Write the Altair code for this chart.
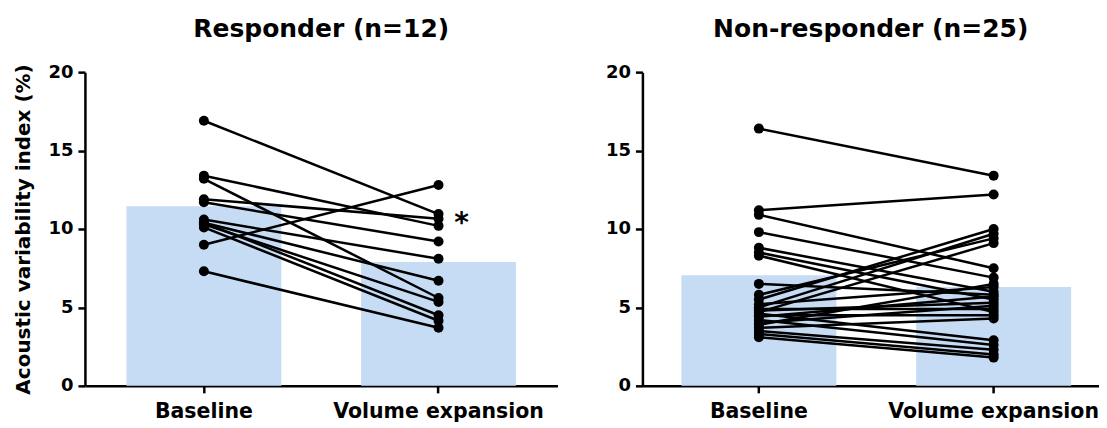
import altair as alt
import pandas as pd

conditions = ["Baseline", "Volume expansion"]

# Responder group (n=12): paired values per subject
resp_baseline = [16.9, 13.4, 13.2, 11.9, 11.7, 10.6, 10.4, 10.4, 10.3, 10.1, 9.0, 7.3]
resp_volume = [10.95, 10.2, 5.6, 10.65, 9.2, 8.1, 6.7, 4.5, 5.35, 4.15, 12.8, 3.7]
resp_bar = [11.45, 7.9]

# Non-responder group (n=25)
non_baseline = [16.4, 11.2, 10.9, 9.8, 8.8, 8.5, 8.3, 6.5, 5.8, 5.5, 5.2, 5.0, 4.9,
                4.8, 4.6, 4.5, 4.4, 4.2, 4.0, 3.9, 3.7, 3.5, 3.3, 3.1, 4.7]
non_volume = [13.4, 12.2, 7.5, 6.9, 6.0, 5.5, 4.7, 5.8, 9.4, 10.0, 6.3, 9.7, 4.9,
              5.3, 2.9, 4.5, 5.7, 2.6, 5.1, 6.5, 4.3, 2.3, 2.0, 1.8, 9.1]
non_bar = [7.05, 6.3]

y_ticks = [0, 5, 10, 15, 20]

FONT = "DejaVu Sans"


def long_df(base, vol):
    rows = []
    for i, (b, v) in enumerate(zip(base, vol)):
        rows.append({"subject": i, "condition": conditions[0], "value": b})
        rows.append({"subject": i, "condition": conditions[1], "value": v})
    return pd.DataFrame(rows)


def panel(title, base, vol, bars, width, x_scale, show_ytitle, star=False):
    pts = long_df(base, vol)
    bar_df = pd.DataFrame({"condition": conditions, "value": bars})
    x = alt.X("condition:N", sort=conditions, scale=x_scale,
              axis=alt.Axis(title=None, labelAngle=0, labelFont=FONT, labelFontWeight="bold",
                            labelFontSize=20.5, labelColor="black", labelPadding=9,
                            labelLimit=0,
                            domainColor="black", domainWidth=2.5, tickColor="black",
                            tickWidth=2.5, tickSize=7))
    y = alt.Y("value:Q", scale=alt.Scale(domain=[0, 20], nice=False),
              axis=alt.Axis(values=y_ticks, grid=False, labelFont=FONT, labelFontWeight="bold",
                            labelFontSize=18, labelColor="black", labelPadding=5,
                            domainColor="black", domainWidth=2.5, tickColor="black",
                            tickWidth=2.5, tickSize=7,
                            title="Acoustic variability index (%)" if show_ytitle else None,
                            titleFont=FONT, titleFontSize=20, titleFontWeight="bold",
                            titleColor="black", titlePadding=14))
    b = alt.Chart(bar_df).mark_bar(color="#c6dbf4").encode(x=x, y=y)
    ln = alt.Chart(pts).mark_line(color="black", strokeWidth=2.5).encode(
        x=x, y=y, detail="subject:N")
    pt = alt.Chart(pts).mark_circle(color="black", opacity=1, size=100).encode(x=x, y=y)
    layers = [b, ln, pt]
    if star:
        sdf = pd.DataFrame({"condition": [conditions[1]], "value": [vol[0]], "label": ["*"]})
        layers.append(alt.Chart(sdf).mark_text(font=FONT, fontSize=28, fontWeight="bold",
                                               color="black", dx=23, dy=10, align="center",
                                               baseline="middle").encode(x=x, y=y, text="label:N"))
    return alt.layer(*layers).properties(
        width=width, height=314,
        title=alt.TitleParams(title, font=FONT, fontSize=25, fontWeight="bold",
                              color="black", offset=21))


left_scale = alt.Scale(paddingInner=0.34, paddingOuter=0.177)
right_scale = alt.Scale(paddingInner=0.34, paddingOuter=0.1424, align=0.583)

left = panel("Responder (n=12)", resp_baseline, resp_volume, resp_bar, 473, left_scale, True, star=True)
right = panel("Non-responder (n=25)", non_baseline, non_volume, non_bar, 457, right_scale, False)

chart = alt.hconcat(left, right, spacing=47).properties(
    padding={"left": 5, "top": 9, "right": 0, "bottom": 0}
).configure_view(stroke=None)

chart.save("out.html", embed_options={"renderer": "svg", "actions": False})
